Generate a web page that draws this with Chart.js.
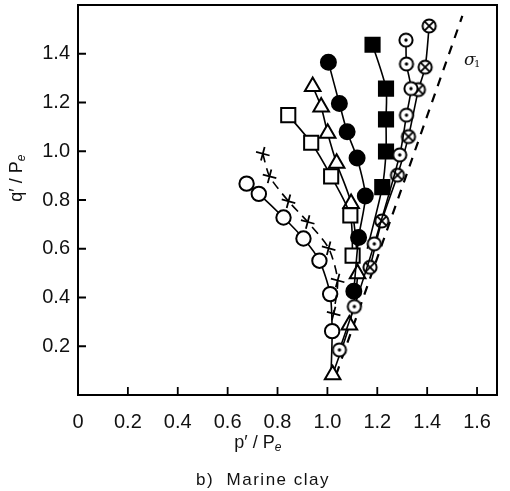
<!DOCTYPE html>
<html>
<head>
<meta charset="utf-8">
<script src="https://cdn.jsdelivr.net/npm/chart.js@4.4.1/dist/chart.umd.min.js"></script>
<style>
  html, body { margin: 0; padding: 0; background: #fff; }
  #wrap { width: 510px; height: 491px; }
</style>
</head>
<body>
<div id="wrap"><canvas id="chart" width="510" height="491"></canvas></div>
<script>
// tick labels
const xTickLabels = ['0', '0.2', '0.4', '0.6', '0.8', '1.0', '1.2', '1.4', '1.6'];
const yTickLabels = ['0.2', '0.4', '0.6', '0.8', '1.0', '1.2', '1.4'];

// effective stress paths, p'/Pe and q'/Pe
const openCircleP = [0.676, 0.725, 0.824, 0.904, 0.968, 1.011, 1.019, 1.015];
const openCircleQ = [0.867, 0.825, 0.728, 0.642, 0.551, 0.414, 0.262, 0.10];

const crossP = [0.741, 0.768, 0.844, 0.921, 1.005, 1.041, 1.025];
const crossQ = [0.990, 0.897, 0.795, 0.710, 0.602, 0.470, 0.334];

const openSquareP = [0.843, 0.935, 1.015, 1.092, 1.101];
const openSquareQ = [1.148, 1.035, 0.897, 0.737, 0.572];

const openTriP = [0.941, 0.975, 1.001, 1.037, 1.095, 1.121, 1.088, 1.021];
const openTriQ = [1.266, 1.182, 1.074, 0.951, 0.786, 0.497, 0.287, 0.083];

const filledCircleP = [1.004, 1.048, 1.079, 1.119, 1.152, 1.125, 1.106];
const filledCircleQ = [1.365, 1.196, 1.080, 0.972, 0.816, 0.646, 0.426];

const filledSquareP = [1.181, 1.235, 1.235, 1.235, 1.220, 1.16];
const filledSquareQ = [1.437, 1.257, 1.131, 0.999, 0.853, 0.60];

const dotCircleP = [1.315, 1.317, 1.335, 1.317, 1.290, 1.188, 1.108, 1.048];
const dotCircleQ = [1.456, 1.358, 1.257, 1.148, 0.985, 0.620, 0.363, 0.185];

const xCircleP = [1.408, 1.392, 1.365, 1.325, 1.281, 1.218, 1.171];
const xCircleQ = [1.514, 1.345, 1.253, 1.060, 0.902, 0.714, 0.524];

const sigmaLineP = [1.035, 1.541];
const sigmaLineQ = [0.083, 1.555];

const toPoints = (xs, ys) => xs.map((x, i) => ({ x: x, y: ys[i] }));

function circleMarker(kind) {
  const s = 18;
  const c = document.createElement('canvas');
  c.width = s; c.height = s;
  const g = c.getContext('2d');
  const m = s / 2, r = 6.6;
  g.beginPath();
  g.arc(m, m, r, 0, Math.PI * 2);
  g.fillStyle = '#fff';
  g.fill();
  g.lineWidth = 2;
  g.strokeStyle = '#000';
  g.stroke();
  if (kind === 'dot') {
    g.beginPath();
    g.arc(m, m, 1.7, 0, Math.PI * 2);
    g.fillStyle = '#000';
    g.fill();
  } else {
    const d = r * 0.7;
    g.lineWidth = 1.8;
    g.beginPath();
    g.moveTo(m - d, m - d); g.lineTo(m + d, m + d);
    g.moveTo(m + d, m - d); g.lineTo(m - d, m + d);
    g.stroke();
  }
  return c;
}

// last point hidden where the line runs on past the final marker
const radii = (n, r, hideLast) => Array.from({ length: n }, (_, i) => (hideLast && i === n - 1) ? 0 : r);

const base = {
  showLine: true,
  borderColor: '#000',
  borderWidth: 1.6,
  pointBorderColor: '#000',
  pointBorderWidth: 2,
  tension: 0.25
};

const datasets = [
  Object.assign({}, base, {
    label: 'dot circle', data: toPoints(dotCircleP, dotCircleQ),
    pointStyle: circleMarker('dot'), pointRadius: 7
  }),
  Object.assign({}, base, {
    label: 'cross circle', data: toPoints(xCircleP, xCircleQ),
    pointStyle: circleMarker('x'), pointRadius: 7
  }),
  Object.assign({}, base, {
    label: 'filled square', data: toPoints(filledSquareP, filledSquareQ),
    pointStyle: 'rect', pointBackgroundColor: '#000',
    pointRadius: radii(filledSquareP.length, 10, true)
  }),
  Object.assign({}, base, {
    label: 'filled circle', data: toPoints(filledCircleP, filledCircleQ),
    pointStyle: 'circle', pointBackgroundColor: '#000', pointRadius: 7.5
  }),
  Object.assign({}, base, {
    label: 'open square', data: toPoints(openSquareP, openSquareQ),
    pointStyle: 'rect', pointBackgroundColor: '#fff', pointRadius: 10
  }),
  Object.assign({}, base, {
    label: 'open triangle', data: toPoints(openTriP, openTriQ),
    pointStyle: 'triangle', pointBackgroundColor: '#fff', pointRadius: 9
  }),
  Object.assign({}, base, {
    label: 'cross', data: toPoints(crossP, crossQ),
    pointStyle: 'cross', pointRadius: 7, pointBorderWidth: 1.8,
    pointRotation: 15, borderDash: [9, 6]
  }),
  Object.assign({}, base, {
    label: 'open circle', data: toPoints(openCircleP, openCircleQ),
    pointStyle: 'circle', pointBackgroundColor: '#fff',
    pointRadius: radii(openCircleP.length, 7.2, true)
  }),
  {
    label: 'sigma1', data: toPoints(sigmaLineP, sigmaLineQ),
    showLine: true, borderColor: '#000', borderWidth: 2.2,
    borderDash: [9, 8], pointRadius: 0, tension: 0
  }
];

const FONT = '"Liberation Sans", Arial, sans-serif';

// frame, inward ticks, axis titles and notes
const decorations = {
  id: 'decorations',
  afterDraw(chart) {
    const ctx = chart.ctx;
    const a = chart.chartArea;
    const xs = chart.scales.x, ys = chart.scales.y;
    ctx.save();
    ctx.strokeStyle = '#000';
    ctx.lineWidth = 2;
    ctx.strokeRect(a.left, a.top, a.right - a.left, a.bottom - a.top);
    ctx.lineWidth = 1.8;
    ctx.beginPath();
    xs.ticks.forEach(t => {
      if (t.value === 0) return;
      const px = xs.getPixelForValue(t.value);
      ctx.moveTo(px, a.bottom); ctx.lineTo(px, a.bottom - 8);
    });
    ys.ticks.forEach(t => {
      const py = ys.getPixelForValue(t.value);
      ctx.moveTo(a.left, py); ctx.lineTo(a.left + 8, py);
    });
    ctx.stroke();

    ctx.fillStyle = '#111';
    ctx.textBaseline = 'middle';

    // x title  p' / Pe
    ctx.font = '18px ' + FONT;
    ctx.textAlign = 'left';
    let t = 'p\u2032 / P';
    let w = ctx.measureText(t).width;
    let x0 = 258 - (w + 7) / 2;
    ctx.fillText(t, x0, 443);
    ctx.font = 'italic 12px ' + FONT;
    ctx.fillText('e', x0 + w, 448);

    // y title  q' / Pe
    ctx.save();
    ctx.translate(17, 178);
    ctx.rotate(-Math.PI / 2);
    ctx.font = '18px ' + FONT;
    t = 'q\u2032 / P';
    w = ctx.measureText(t).width;
    x0 = -(w + 7) / 2;
    ctx.fillText(t, x0, 0);
    ctx.font = 'italic 12px ' + FONT;
    ctx.fillText('e', x0 + w, 5);
    ctx.restore();

    // caption
    ctx.font = '17px ' + FONT;
    ctx.textAlign = 'center';
    ctx.letterSpacing = '1.5px';
    ctx.fillText('b)  Marine clay', 263, 480);
    ctx.letterSpacing = '0px';

    // sigma1 label next to the dashed line
    const sx = xs.getPixelForValue(1.572), sy = ys.getPixelForValue(1.372);
    ctx.font = 'italic 17px "DejaVu Serif", "Liberation Serif", serif';
    ctx.textAlign = 'left';
    ctx.fillText('\u03c3', sx - 6, sy);
    ctx.font = '10px "DejaVu Serif", serif';
    ctx.fillText('1', sx + 4, sy + 4);
    ctx.restore();
  }
};

new Chart(document.getElementById('chart').getContext('2d'), {
  type: 'scatter',
  data: { datasets: datasets },
  options: {
    responsive: false,
    animation: false,
    layout: { autoPadding: false, padding: { top: 5, right: 13, left: 0, bottom: 0 } },
    plugins: { legend: { display: false }, tooltip: { enabled: false } },
    scales: {
      x: {
        type: 'linear', min: 0, max: 1.68,
        afterFit(scale) { scale.height = 96; scale.paddingLeft = 0; scale.paddingRight = 0; },
        afterBuildTicks(scale) { scale.ticks = xTickLabels.map(v => ({ value: parseFloat(v) })); },
        grid: { display: false, drawTicks: false },
        border: { display: false },
        ticks: {
          padding: 15, color: '#111', maxRotation: 0, autoSkip: false,
          font: { family: FONT, size: 20 },
          callback: (v, i) => xTickLabels[i]
        }
      },
      y: {
        type: 'linear', min: 0, max: 1.6,
        afterFit(scale) { scale.width = 78; scale.paddingTop = 0; scale.paddingBottom = 0; },
        afterBuildTicks(scale) { scale.ticks = yTickLabels.map(v => ({ value: parseFloat(v) })); },
        grid: { display: false, drawTicks: false },
        border: { display: false },
        ticks: {
          padding: 8, color: '#111', autoSkip: false,
          font: { family: FONT, size: 20 },
          callback: (v, i) => yTickLabels[i]
        }
      }
    }
  },
  plugins: [decorations]
});
</script>
</body>
</html>
